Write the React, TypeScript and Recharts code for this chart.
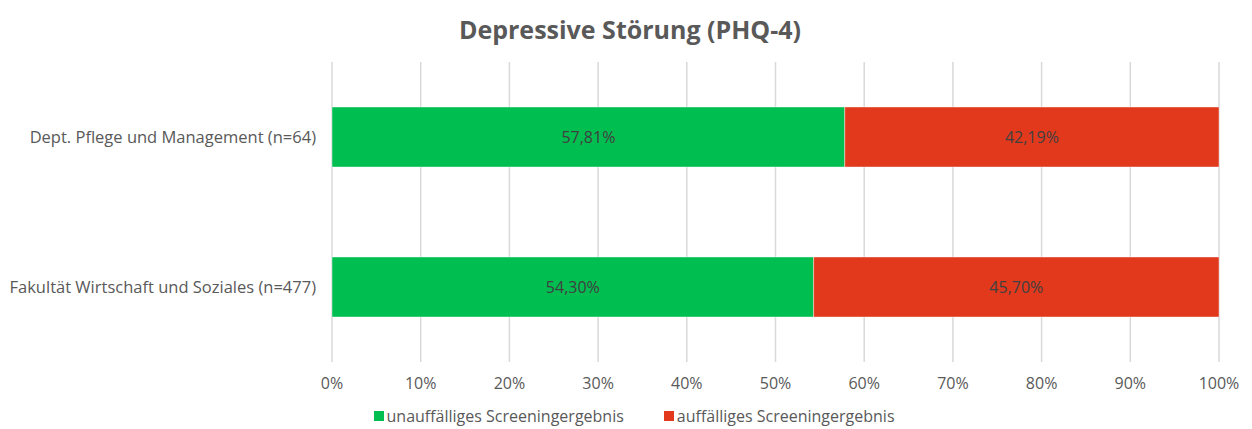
import {
    BarChart,
    Bar,
    XAxis,
    YAxis,
    CartesianGrid,
    Legend,
    LabelList,
} from 'recharts';

const categories = ['Dept. Pflege und Management (n=64)', 'Fakultät Wirtschaft und Soziales (n=477)'];
const unauffaellig = [57.81, 54.3];
const auffaellig = [42.19, 45.7];
const xTicks = [0, 10, 20, 30, 40, 50, 60, 70, 80, 90, 100];

const seriesNames = ['unauffälliges Screeningergebnis', 'auffälliges Screeningergebnis'];
const GREEN = '#00BF50';
const RED = '#E2391D';
const TEXT = '#595959';
const FONT = '"Open Sans", sans-serif';

const data = categories.map((name, i) => ({
    name,
    ok: unauffaellig[i],
    flag: auffaellig[i],
}));

const fmt = (v: number) => `${v.toFixed(2).replace('.', ',')}%`;

const LegendContent = () => (
    <div style={{ display: 'flex', justifyContent: 'center', gap: 40, fontFamily: FONT, fontSize: 16, color: TEXT, height: 20, alignItems: 'center' }}>
        {[GREEN, RED].map((c, i) => (
            <div key={i} style={{ display: 'flex', alignItems: 'center', gap: 3 }}>
                <span style={{ width: 10, height: 10, background: c, display: 'inline-block' }} />
                <span>{seriesNames[i]}</span>
            </div>
        ))}
    </div>
);

export default function App() {
    return (
        <div style={{ position: 'absolute', left: 0, top: 0, width: 1252, height: 429, background: '#fff', fontFamily: FONT }}>
            <div style={{ position: 'absolute', top: 12, left: 0, width: 1260, textAlign: 'center', fontSize: 25, fontWeight: 700, color: TEXT }}>
                Depressive Störung (PHQ-4)
            </div>
            <BarChart
                width={1252}
                height={429}
                data={data}
                layout="vertical"
                margin={{ top: 62, right: 33, left: 0, bottom: 7 }}
                barSize={60}
            >
                <CartesianGrid horizontal={false} vertical={true} stroke="#d9d9d9" strokeWidth={1.5} />
                <XAxis
                    type="number"
                    domain={[0, 100]}
                    ticks={xTicks}
                    tickFormatter={(v: number) => `${v}%`}
                    axisLine={false}
                    tickLine={false}
                    height={40}
                    tickMargin={10}
                    tick={{ fill: TEXT, fontSize: 16, fontFamily: FONT }}
                />
                <YAxis
                    type="category"
                    dataKey="name"
                    width={332}
                    axisLine={false}
                    tickLine={false}
                    tickSize={0}
                    tickMargin={16}
                    tick={{ fill: TEXT, fontSize: 16.5, fontFamily: FONT }}
                />
                <Legend content={<LegendContent />} wrapperStyle={{ left: 8, width: 1252, bottom: 3 }} />
                <Bar dataKey="ok" stackId="a" fill={GREEN} stroke="#ffffff" strokeOpacity={0.4} isAnimationActive={false}>
                    <LabelList dataKey="ok" position="center" formatter={(v: number) => fmt(v)} fill="#404040" fontSize={16} fontFamily={FONT} />
                </Bar>
                <Bar dataKey="flag" stackId="a" fill={RED} stroke="#ffffff" strokeOpacity={0.4} isAnimationActive={false}>
                    <LabelList dataKey="flag" position="center" formatter={(v: number) => fmt(v)} fill="#404040" fontSize={16} fontFamily={FONT} />
                </Bar>
            </BarChart>
        </div>
    );
}
